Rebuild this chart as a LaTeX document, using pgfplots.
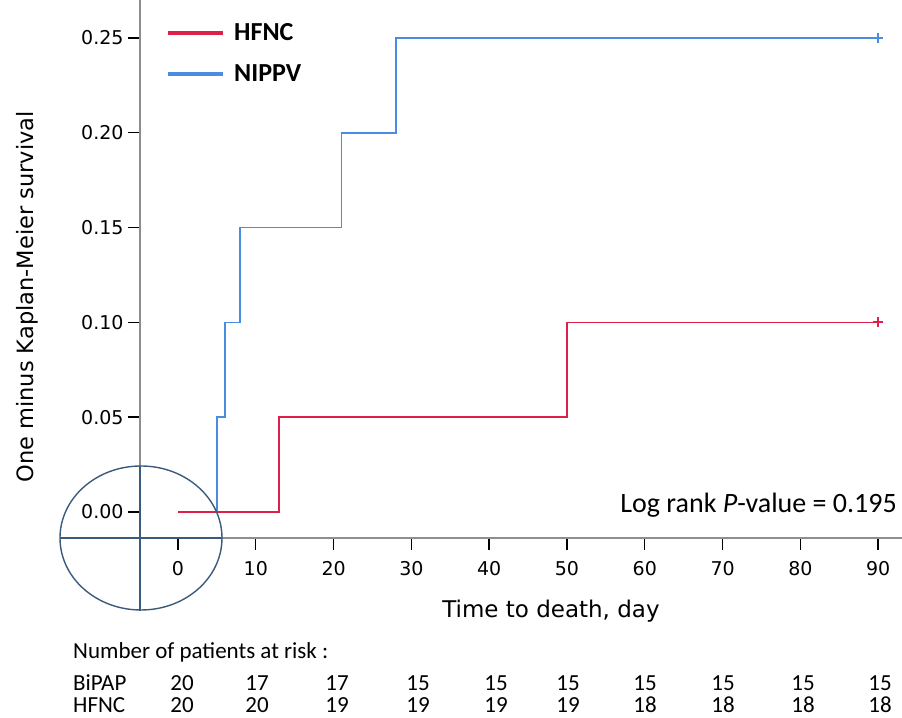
\documentclass[border=0pt]{standalone}
\usepackage{fontspec}
\setmainfont{Carlito}
\newfontfamily\dejavu{DejaVu Sans}
\usepackage{pgfplots}
\pgfplotsset{compat=1.18}
\definecolor{hfnc}{HTML}{DE1F4A}
\definecolor{nippv}{HTML}{4A8CE0}
\definecolor{axgray}{HTML}{8E8E8E}
\definecolor{circ}{HTML}{3B5B7C}

\begin{document}
\begin{tikzpicture}
\begin{axis}[
  x=7.78pt, y=1896pt,
  xmin=-4.88, xmax=93, ymin=-0.01371, ymax=0.27,
  axis lines*=left,
  axis line style={draw=axgray, line width=1.6pt},
  clip=false,
  xtick={0,10,20,30,40,50,60,70,80,90},
  ytick={0,0.05,0.10,0.15,0.20,0.25},
  tick align=outside,
  major tick length=12pt,
  tick style={black, line width=1.4pt},
  ticklabel style={font=\dejavu\fontsize{19}{22}\selectfont},
  xticklabel style={yshift=-8pt},
  yticklabel style={xshift=-1pt},
  /pgf/number format/assume math mode=true,
  yticklabel style={/pgf/number format/.cd, fixed, fixed zerofill, precision=2},
  xlabel={Time to death, day},
  ylabel={One minus Kaplan-Meier survival},
  xlabel style={font=\dejavu\fontsize{23}{27}\selectfont, at={(axis cs:47.94,-0.05222)}, anchor=center},
  ylabel style={font=\dejavu\fontsize{22.5}{27}\selectfont, at={(axis cs:-19.41,0.1134)}, anchor=center},
  legend style={draw=none, fill=none, at={(axis cs:-1.54,0.2586)}, anchor=north west,
    font=\bfseries\fontsize{26}{30}\selectfont, row sep=18pt, column sep=7pt, inner sep=0pt,
    cells={anchor=west}},
  legend image code/.code={\draw[line width=4pt] (0pt,0pt) -- (55pt,0pt);},
  reverse legend,
]
% NIPPV group
\addplot[nippv, line width=1.7pt, const plot] coordinates {
  (0,0) (5,0.05) (6,0.10) (8,0.15) (21,0.20) (28,0.25) (90,0.25)
};
\addlegendentry{NIPPV}
% HFNC group
\addplot[hfnc, line width=1.7pt, const plot] coordinates {
  (0,0) (13,0.05) (50,0.10) (90,0.10)
};
\addlegendentry{HFNC}
% censored
\addplot[nippv, only marks, mark=+, mark size=5pt, mark options={line width=2pt}, forget plot]
  coordinates {(90,0.25)};
\addplot[hfnc, only marks, mark=+, mark size=5pt, mark options={line width=2pt}, forget plot]
  coordinates {(90,0.10)};
\coordinate (px0) at (axis cs:-22.879,0.27004);
\coordinate (pxE) at (axis cs:93.06,-0.10865);
\end{axis}
\pgfresetboundingbox
\useasboundingbox (px0) rectangle (pxE);
\begin{scope}[shift={(px0)}, x=1pt, y=-1pt]
  \draw[circ, line width=1.4pt] (141,538) ellipse [x radius=81pt, y radius=72pt];
  \draw[circ, line width=1.4pt] (60,538) -- (222,538);
  \draw[circ, line width=1.4pt] (140,466) -- (140,611);
  \node[anchor=base east, inner sep=0pt, font=\fontsize{28}{32}\selectfont] at (897,513)
    {Log rank \textit{P}-value = 0.195};
  \node[anchor=base west, inner sep=0pt, font=\fontsize{23}{27}\selectfont] at (73,659)
    {Number of patients at risk :};
  \node[anchor=base west, inner sep=0pt, font=\fontsize{23}{27}\selectfont] at (73,691) {BiPAP};
  \node[anchor=base west, inner sep=0pt, font=\fontsize{23}{27}\selectfont] at (73,713) {HFNC};
  \foreach \xx/\a/\b in {182/20/20, 257/17/20, 337/17/19, 418/15/19, 496/15/19,
                         568/15/19, 645/15/18, 723/15/18, 803/15/18, 880/15/18} {
    \node[anchor=base, inner sep=0pt, font=\fontsize{23}{27}\selectfont] at (\xx,691) {\a};
    \node[anchor=base, inner sep=0pt, font=\fontsize{23}{27}\selectfont] at (\xx,713) {\b};
  }
\end{scope}
\end{tikzpicture}
\end{document}
